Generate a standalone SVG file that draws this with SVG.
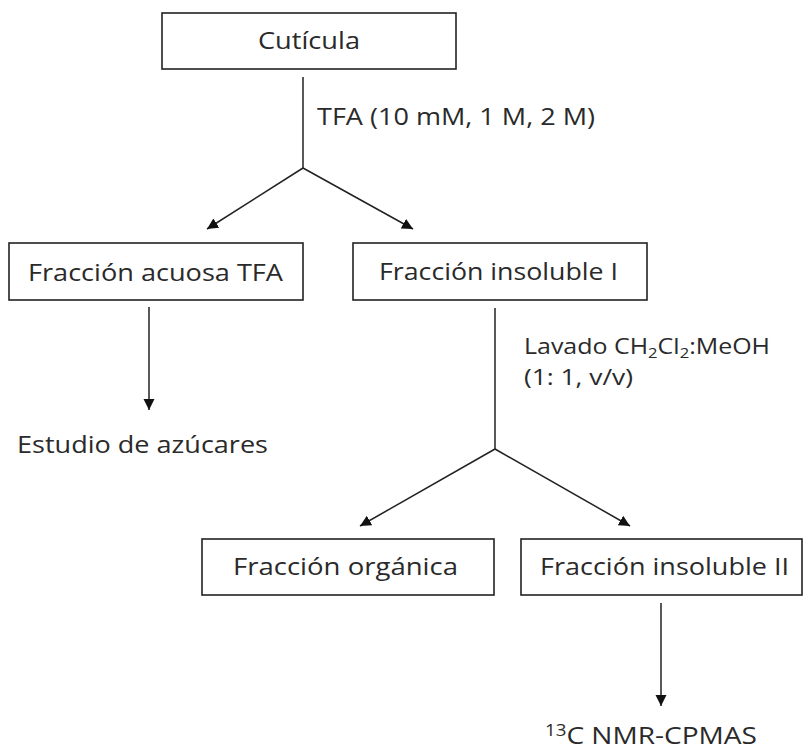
<svg xmlns="http://www.w3.org/2000/svg" width="804" height="753" viewBox="0 0 804 753">
<style>
.box{fill:#fff;stroke:#222;stroke-width:1.6}
.t{font-family:"Open Sans","Noto Sans",sans-serif;font-size:24px;fill:#2a2a2a}
.s{font-size:21px}
.c{stroke:#222;stroke-width:1.5;fill:none}
.a{marker-end:url(#ah)}
</style>
<defs>
<marker id="ah" markerUnits="userSpaceOnUse" markerWidth="12" markerHeight="12" viewBox="0 0 12 12" refX="11" refY="6" orient="auto">
<path d="M0,0.5 L11,6 L0,11.5 Z" fill="#111"/>
</marker>
</defs>
<rect width="804" height="753" fill="#fff"/>
<g id="connectors">
<line class="c" x1="303" y1="77" x2="303" y2="168"/>
<line class="c a" x1="303" y1="168" x2="207" y2="229"/>
<line class="c a" x1="303" y1="168" x2="413" y2="229"/>
<line class="c a" x1="149" y1="307" x2="149" y2="410"/>
<line class="c" x1="495" y1="308" x2="495" y2="449"/>
<line class="c a" x1="495" y1="449" x2="360" y2="526"/>
<line class="c a" x1="495" y1="449" x2="630" y2="526"/>
<line class="c a" x1="661" y1="603" x2="661" y2="706"/>
<text class="t" x="317" y="125" textLength="278" lengthAdjust="spacingAndGlyphs">TFA (10 mM, 1 M, 2 M)</text>
<text class="t s" x="524" y="354" textLength="246" lengthAdjust="spacingAndGlyphs">Lavado CH<tspan font-size="14" dy="4">2</tspan><tspan dy="-4">Cl</tspan><tspan font-size="14" dy="4">2</tspan><tspan dy="-4">:MeOH</tspan></text>
<text class="t s" x="524" y="385" textLength="109" lengthAdjust="spacingAndGlyphs">(1: 1, v/v)</text>
</g>
<g id="cuticula">
<rect class="box" x="162" y="13" width="294" height="56"/>
<text class="t" x="258" y="49" textLength="102" lengthAdjust="spacingAndGlyphs">Cutícula</text>
</g>
<g id="fraccion-acuosa">
<rect class="box" x="9" y="243" width="294" height="57"/>
<text class="t" x="28" y="281" textLength="255" lengthAdjust="spacingAndGlyphs">Fracción acuosa TFA</text>
</g>
<g id="fraccion-insoluble-1">
<rect class="box" x="353" y="243" width="294" height="57"/>
<text class="t" x="379" y="280" textLength="239" lengthAdjust="spacingAndGlyphs">Fracción insoluble I</text>
</g>
<g id="estudio-azucares">
<text class="t" x="17" y="453" textLength="251" lengthAdjust="spacingAndGlyphs">Estudio de azúcares</text>
</g>
<g id="fraccion-organica">
<rect class="box" x="202" y="539" width="292" height="56"/>
<text class="t" x="233" y="575" textLength="225" lengthAdjust="spacingAndGlyphs">Fracción orgánica</text>
</g>
<g id="fraccion-insoluble-2">
<rect class="box" x="521" y="539" width="281" height="56"/>
<text class="t" x="540" y="575" textLength="249" lengthAdjust="spacingAndGlyphs">Fracción insoluble II</text>
</g>
<g id="nmr">
<text class="t" x="545" y="744" textLength="212" lengthAdjust="spacingAndGlyphs"><tspan font-size="16" dy="-8">13</tspan><tspan dy="8">C NMR-CPMAS</tspan></text>
</g>
</svg>
